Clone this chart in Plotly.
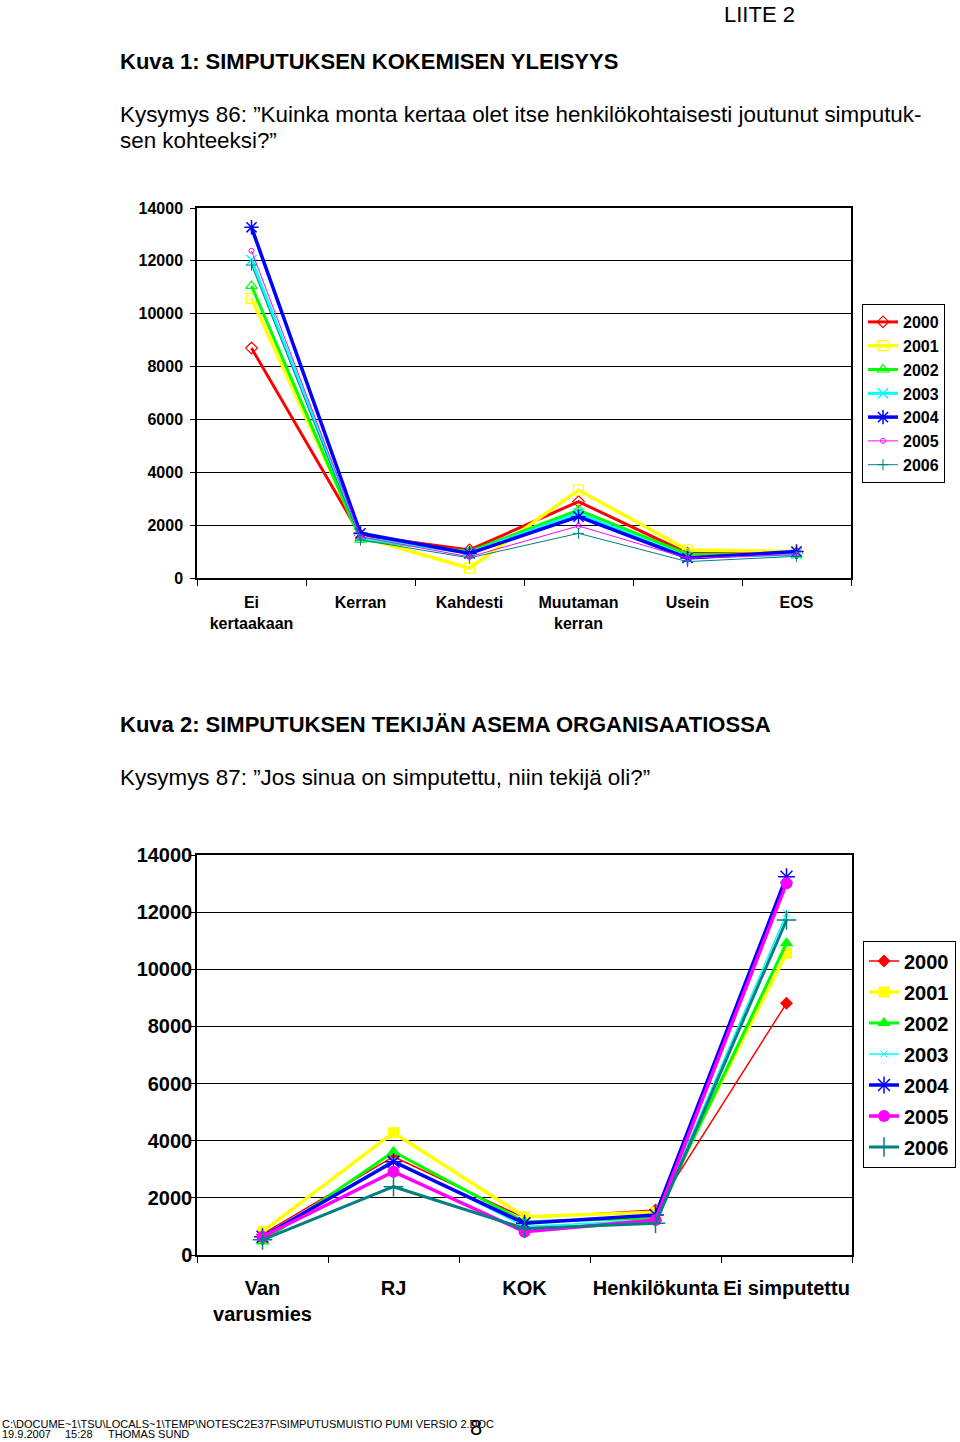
import plotly.graph_objects as go

# ---------------- data ----------------
years = ["2000", "2001", "2002", "2003", "2004", "2005", "2006"]

cat1 = ["Ei<br>kertaakaan", "Kerran", "Kahdesti", "Muutaman<br>kerran", "Usein", "EOS"]
v1_2000 = [8700, 1620, 1060, 2890, 940, 940]
v1_2001 = [10580, 1560, 370, 3330, 1060, 1000]
v1_2002 = [11050, 1440, 1000, 2570, 900, 880]
v1_2003 = [12030, 1520, 950, 2450, 780, 900]
v1_2004 = [13270, 1690, 930, 2320, 760, 1000]
v1_2005 = [12380, 1560, 800, 1970, 750, 880]
v1_2006 = [11840, 1440, 760, 1690, 620, 820]

cat2 = ["Van<br>varusmies", "RJ", "KOK", "Henkilökunta", "Ei simputettu"]
v2_2000 = [730, 3440, 1300, 1575, 8810]
v2_2001 = [815, 4280, 1340, 1500, 10560]
v2_2002 = [470, 3615, 1165, 1290, 10910]
v2_2003 = [600, 3330, 1000, 1230, 11960]
v2_2004 = [640, 3265, 1110, 1400, 13240]
v2_2005 = [640, 2915, 815, 1225, 13010]
v2_2006 = [530, 2390, 930, 1110, 11725]

y_ticks = [0, 2000, 4000, 6000, 8000, 10000, 12000, 14000]

# ---------------- styles ----------------
colors = ["#FF0000", "#FFFF00", "#00FF00", "#00FFFF", "#0000FF", "#FF00FF", "#008080"]

style1 = [  # (symbol, marker size, marker line width, line width)
    ("diamond-open", 9, 1.2, 3),
    ("square-open", 10, 1.2, 3.5),
    ("triangle-up-open", 10, 1.2, 3),
    ("x-thin-open", 10, 1.5, 3),
    ("asterisk-open", 12, 1.5, 3.5),
    ("circle-open", 5, 1, 1),
    ("cross-thin-open", 8, 1, 1),
]
style2 = [
    ("diamond", 10, 0, 1.5),
    ("square", 11, 0, 3.5),
    ("triangle-up", 12, 0, 3),
    ("x-thin-open", 7, 1, 1.5),
    ("asterisk-open", 14, 1.5, 3.5),
    ("circle", 12, 0, 3.5),
    ("cross-thin-open", 14, 1.5, 3),
]

FONT = "Liberation Sans, Arial, sans-serif"
W, H = 960, 1442

fig = go.Figure()

series1 = [v1_2000, v1_2001, v1_2002, v1_2003, v1_2004, v1_2005, v1_2006]
series2 = [v2_2000, v2_2001, v2_2002, v2_2003, v2_2004, v2_2005, v2_2006]

for i, (yr, vals) in enumerate(zip(years, series1)):
    sym, ms, mlw, lw = style1[i]
    fig.add_trace(go.Scatter(
        x=cat1, y=vals, name=yr, mode="lines+markers",
        line=dict(color=colors[i], width=lw),
        marker=dict(symbol=sym, size=ms, color=colors[i],
                    line=dict(color=colors[i], width=mlw)),
        xaxis="x", yaxis="y", legend="legend", legendgroup="a" + yr,
        hoverinfo="skip",
    ))

for i, (yr, vals) in enumerate(zip(years, series2)):
    sym, ms, mlw, lw = style2[i]
    fig.add_trace(go.Scatter(
        x=cat2, y=vals, name=yr, mode="lines+markers",
        line=dict(color=colors[i], width=lw),
        marker=dict(symbol=sym, size=ms, color=colors[i],
                    line=dict(color=colors[i], width=mlw)),
        xaxis="x2", yaxis="y2", legend="legend2", legendgroup="b" + yr,
        hoverinfo="skip",
    ))

def px_x(v):
    return v / W

def px_y(v):
    return 1 - v / H

axis_common = dict(showline=True, linecolor="black", mirror=True, zeroline=False,
                   automargin=False)

fig.update_layout(
    width=W, height=H,
    margin=dict(l=0, r=0, t=0, b=0, pad=0, autoexpand=False),
    paper_bgcolor="white", plot_bgcolor="white",
    font=dict(family=FONT, color="black"),
    xaxis=dict(domain=[px_x(197), px_x(851)], anchor="y", type="category",
               range=[-0.5, len(cat1) - 0.5], tickangle=0,
               tickson="boundaries", ticks="outside", ticklen=6, tickcolor="black",
               linewidth=1.5, showgrid=False, ticklabelstandoff=9,
               tickfont=dict(size=16, family=FONT, weight="bold"), **axis_common),
    yaxis=dict(domain=[px_y(578), px_y(208)], anchor="x", range=[0, 14000],
               tickvals=y_ticks, tickformat="d", ticks="outside", ticklen=5,
               tickcolor="black", linewidth=1.5, showgrid=True, gridcolor="black",
               gridwidth=1, ticklabelstandoff=4,
               tickfont=dict(size=16, family=FONT, weight="bold"), **axis_common),
    xaxis2=dict(domain=[px_x(197), px_x(852)], anchor="y2", type="category",
                range=[-0.5, len(cat2) - 0.5], tickangle=0,
                tickson="boundaries", ticks="outside", ticklen=6, tickcolor="black",
                linewidth=1.5, showgrid=False, ticklabelstandoff=14,
                tickfont=dict(size=20, family=FONT, weight="bold"), **axis_common),
    yaxis2=dict(domain=[px_y(1255), px_y(855)], anchor="x2", range=[0, 14000],
                tickvals=y_ticks, tickformat="d", ticks="outside", ticklen=5,
                tickcolor="black", linewidth=1.5, showgrid=True, gridcolor="black",
                gridwidth=1, ticklabelstandoff=-6,
                tickfont=dict(size=20, family=FONT, weight="bold"), **axis_common),
    legend=dict(x=px_x(862), y=px_y(393.5), xanchor="left", yanchor="middle",
                bordercolor="black", borderwidth=1, bgcolor="white",
                font=dict(size=16, family=FONT, weight="bold"),
                tracegroupgap=0, itemwidth=30),
    legend2=dict(x=px_x(863), y=px_y(1054), xanchor="left", yanchor="middle",
                 bordercolor="black", borderwidth=1, bgcolor="white",
                 font=dict(size=20, family=FONT, weight="bold"),
                 tracegroupgap=2, itemwidth=30),
    showlegend=True,
)

def txt(text, x, y, size, bold=False, xanchor="left", yanchor="middle"):
    fig.add_annotation(
        text=text, x=px_x(x), y=px_y(y), xref="paper", yref="paper",
        xanchor=xanchor, yanchor=yanchor, showarrow=False,
        font=dict(family=FONT, size=size, color="black",
                  weight="bold" if bold else "normal"),
    )

txt("LIITE 2", 722, 0, 22, yanchor="top")
txt("Kuva 1: SIMPUTUKSEN KOKEMISEN YLEISYYS", 118, 62, 22, bold=True)
txt("Kysymys 86: ”Kuinka monta kertaa olet itse henkilökohtaisesti joutunut simputuk-", 118, 115, 22.4)
txt("sen kohteeksi?”", 118, 141, 22.4)
txt("Kuva 2: SIMPUTUKSEN TEKIJÄN ASEMA ORGANISAATIOSSA", 118, 724, 22, bold=True)
txt("Kysymys 87: ”Jos sinua on simputettu, niin tekijä oli?”", 118, 777, 22.4)
txt("C:\\DOCUME~1\\TSU\\LOCALS~1\\TEMP\\NOTESC2E37F\\SIMPUTUSMUISTIO PUMI VERSIO 2.DOC", 0, 1424, 11)
txt("19.9.2007", 0, 1442, 11, yanchor="bottom")
txt("15:28", 63, 1442, 11, yanchor="bottom")
txt("THOMAS SUND", 106, 1442, 11, yanchor="bottom")
txt("8", 476, 1442, 22, xanchor="center", yanchor="bottom")

fig.write_html(
    "out.html",
    config={"displayModeBar": False},
    post_script="document.body.style.margin='0';document.body.style.padding='0';",
)
